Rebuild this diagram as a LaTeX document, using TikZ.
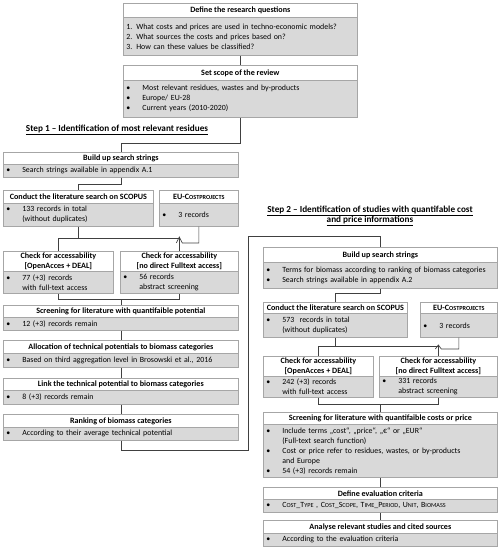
\documentclass[tikz,border=0pt]{standalone}
\usepackage{fontspec}
\setmainfont{Carlito}
\definecolor{bodyfill}{HTML}{D9D9D9}
\definecolor{bordercol}{HTML}{A6A6A6}
\definecolor{linecol}{HTML}{404040}
\newcommand{\fsz}{\fontsize{7.9}{10}\selectfont}
\newcommand{\tsz}{\fontsize{8.1}{10}\selectfont}
\newcommand{\fsc}[2]{#1{\fontsize{6.2}{10}\selectfont #2}}
\newcommand{\bul}{\makebox[16pt][l]{•}}
\newcommand{\ind}{\hspace*{16pt}}
\tikzset{
  ttl/.style={draw=bordercol, fill=white, line width=0.7pt, font=\bfseries\tsz, inner sep=0pt, align=center, anchor=north west},
  bdy/.style={draw=bordercol, fill=bodyfill, line width=0.7pt, font=\fsz, inner xsep=3pt, inner ysep=0pt, align=left, anchor=north west},
  conn/.style={draw=linecol, line width=0.7pt},
  steplabel/.style={font=\bfseries\fontsize{9.2}{10.5}\selectfont, align=center, inner sep=0pt}
}
\newcommand{\flowbox}[8]{%
  \pgfmathsetmacro\bw{#3-#2}%
  \pgfmathsetmacro\tw{#3-#2-6}%
  \pgfmathsetmacro\th{#5-#4}%
  \pgfmathsetmacro\bh{#6-#5}%
  \node[ttl, minimum width=\bw pt, minimum height=\th pt] (#1t) at (#2,#4) {#7};
  \node[bdy, text width=\tw pt, minimum height=\bh pt] (#1b) at (#2,#5) {\hyphenpenalty=10000 #8};
}
\begin{document}
\begin{tikzpicture}[x=1pt,y=-1pt]
\useasboundingbox (0,0) rectangle (501,550);
% top
\flowbox{q1}{123}{357}{3}{17}{55}{Define the research questions}{1. What costs and prices are used in techno-economic models?\\2. What sources the costs and prices based on?\\3. How can these values be classified?}
\flowbox{q2}{123}{357}{65}{80}{117}{Set scope of the review}{\bul Most relevant residues, wastes and by-products\\\bul Europe/ EU-28\\\bul Current years (2010-2020)}
% step labels
\node[steplabel] (s1) at (117,130) {\underline{Step 1 – Identification of most relevant residues}};
\node[steplabel] (s2) at (370,216) {\underline{Step 2 – Identification of studies with quantifable cost}\\\underline{and price informations}};
% left column
\flowbox{l1}{3}{238}{152}{164}{177}{Build up search strings}{\bul Search strings available in appendix A.1}
\flowbox{l2}{3}{153}{190}{203}{226}{Conduct the literature search on SCOPUS}{\bul 133 records in total\\\ind (without duplicates)}
\flowbox{l2e}{159}{238}{190}{203}{226}{EU-\fsc{C}{OSTPROJECTS}}{\bul 3 records}
\flowbox{l3a}{3}{113}{251}{271}{293}{Check for accessability\\{[OpenAcces + DEAL]}}{\bul 77 (+3) records\\\ind with full-text access}
\flowbox{l3b}{120}{238}{251}{271}{293}{Check for accessability\\{[no direct Fulltext access]}}{\bul 56 records\\\ind abstract screening}
\flowbox{l4}{3}{238}{305}{317}{330}{Screening for literature with quantifaible potential}{\bul 12 (+3) records remain}
\flowbox{l5}{3}{238}{340}{353}{367}{Allocation of technical potentials to biomass categories}{\bul Based on third aggregation level in Brosowski et al., 2016}
\flowbox{l6}{3}{238}{378}{390}{404}{Link the technical potential to biomass categories}{\bul 8 (+3) records remain}
\flowbox{l7}{3}{238}{414}{427}{440}{Ranking of biomass categories}{\bul According to their average technical potential}
% right column
\flowbox{r1}{263}{497}{247}{262}{288}{Build up search strings}{\bul Terms for biomass according to ranking of biomass categories\\\bul Search strings available in appendix A.2}
\flowbox{r2}{263}{407}{302}{313}{337}{Conduct the literature search on SCOPUS}{\bul 573\ \ records in total\\\ind (without duplicates)}
\flowbox{r2e}{420}{497}{302}{313}{337}{EU-\fsc{C}{OSTPROJECTS}}{\bul 3 records}
\flowbox{r3a}{263}{373}{356}{376}{397}{Check for accessability\\{[OpenAcces + DEAL]}}{\bul 242 (+3) records\\\ind with full-text access}
\flowbox{r3b}{379}{497}{356}{376}{397}{Check for accessability\\{[no direct Fulltext access]}}{\bul 331 records\\\ind abstract screening}
\flowbox{r4}{263}{497}{412}{424}{477}{Screening for literature with quantifaible costs or price}{\bul Include terms „cost“, „price“, „€“ or „EUR“\\\ind (Full-text search function)\\\bul Cost or price refer to residues, wastes, or by-products\\\ind and Europe\\\bul 54 (+3) records remain}
\flowbox{r5}{263}{497}{487}{499}{512}{Define evaluation criteria}{\bul \fsc{C}{OST}\_\fsc{T}{YPE} , \fsc{C}{OST}\_\fsc{S}{COPE}, \fsc{T}{IME}\_\fsc{P}{ERIOD}, \fsc{U}{NIT}, \fsc{B}{IOMASS}}
\flowbox{r6}{263}{497}{520}{533}{546}{Analyse relevant studies and cited sources}{\bul According to the evaluation criteria}
% helper coordinates
\coordinate (h1) at (0,238);
\coordinate (h1c) at (0,237);
\coordinate (h1b) at (0,243);
\coordinate (h2) at (0,299);
\coordinate (h3) at (248,450);
\coordinate (h4) at (248,236);
\coordinate (h5) at (0,346);
\coordinate (h5c) at (0,345);
\coordinate (h5b) at (0,349);
\coordinate (h6) at (0,404);
% connectors top
\draw[conn] (q1b.south) -- (q2t.north);
\draw[conn] (q2b.south) -- ++(0,26) -| (l1t.north);
% left connectors
\draw[conn] (l1b.south) -- ++(0,7) -| (l2t.north);
\draw[conn] (l2b.south) -- (l2b.south |- h1);
\draw[conn] (l3at.north) -- (l3at.north |- h1) -- (l3bt.north |- h1) -- (l3bt.north);
\draw[conn] (l2eb.south) -- (l2eb.south |- h1b) -- ([xshift=3pt]l3bt.north |- h1b) -- (l3bt.north |- h1c) -- ([xshift=-3pt]l3bt.north |- h1b);
\draw[conn] (l3ab.south) -- (l3ab.south |- h2) -- (l3bb.south |- h2) -- (l3bb.south);
\draw[conn] (l4t.north |- h2) -- (l4t.north);
\draw[conn] (l4b.south) -- (l5t.north);
\draw[conn] (l5b.south) -- (l6t.north);
\draw[conn] (l6b.south) -- (l7t.north);
\draw[conn] (l7b.south) |- (h3) -- (h4) -| (r1t.north);
% right connectors
\draw[conn] (r1b.south) -- ++(0,5) -| (r2t.north);
\draw[conn] (r2b.south) -- (r2b.south |- h5);
\draw[conn] (r3at.north) -- (r3at.north |- h5) -- (r3bt.north |- h5) -- (r3bt.north);
\draw[conn] (r2eb.south) -- (r2eb.south |- h5b) -- ([xshift=3pt]r3bt.north |- h5b) -- (r3bt.north |- h5c) -- ([xshift=-3pt]r3bt.north |- h5b);
\draw[conn] (r3ab.south) -- (r3ab.south |- h6) -- (r3bb.south |- h6) -- (r3bb.south);
\draw[conn] (r4t.north |- h6) -- (r4t.north);
\draw[conn] (r4b.south) -- (r5t.north);
\draw[conn] (r5b.south) -- (r6t.north);
\end{tikzpicture}
\end{document}
